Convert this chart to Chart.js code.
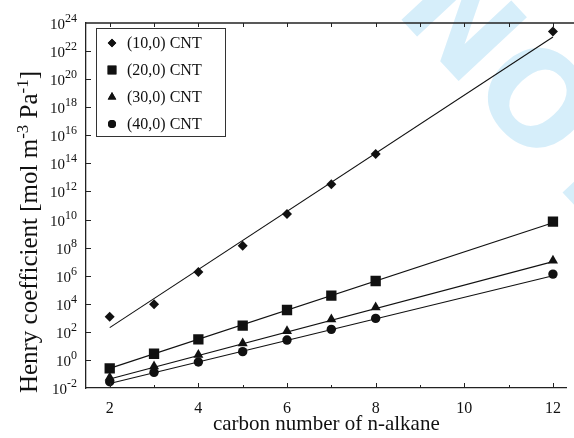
<!DOCTYPE html>
<html>
<head>
<meta charset="utf-8">
<script src="https://cdn.jsdelivr.net/npm/chart.js@4.4.0/dist/chart.umd.min.js"></script>
<style>
  html, body { margin: 0; padding: 0; background: #fff; }
  #wrap { width: 574px; height: 438px; }
</style>
</head>
<body>
<div id="wrap"><canvas id="henry"></canvas></div>
<script>
// carbon number of the n-alkane
var carbon = [2, 3, 4, 5, 6, 7, 8, 12];

// Henry coefficients [mol m-3 Pa-1]
var cnt10 = [1.2e3, 9.1e3, 1.8e6, 1.35e8, 2.5e10, 3.2e12, 4.7e14, 2.5e23];
var cnt20 = [0.25, 2.75, 29.5, 275, 3.6e3, 3.8e4, 4.2e5, 7.1e9];
var cnt30 = [0.056, 0.35, 2.3, 15, 115, 780, 5.6e3, 1.2e7];
var cnt40 = [0.028, 0.13, 0.71, 3.9, 26, 150, 910, 1.3e6];

// fitted straight lines (end points at C2 and C12)
var fitX = [2, 12];
var fit10 = [2.0e2, 1.0e23];
var fit20 = [0.25, 6.0e9];
var fit30 = [0.044, 1.0e7];
var fit40 = [0.021, 1.0e6];

var seriesNames = ['(10,0) CNT', '(20,0) CNT', '(30,0) CNT', '(40,0) CNT'];
var xTicks = [2, 4, 6, 8, 10, 12];
var yExponents = [-2, 0, 2, 4, 6, 8, 10, 12, 14, 16, 18, 20, 22, 24];

var serif = '"Liberation Serif", "DejaVu Serif", serif';
var ink = '#111';

function pts(xs, ys) {
	return xs.map(function (x, i) { return { x: x, y: ys[i] }; });
}

function markers(label, values, style, radius) {
	return {
		label: label,
		data: pts(carbon, values),
		showLine: false,
		pointStyle: style,
		pointRadius: radius,
		pointHoverRadius: radius,
		backgroundColor: ink,
		borderColor: ink,
		borderWidth: 0
	};
}

function fitLine(values) {
	return {
		label: 'fit',
		data: pts(fitX, values),
		showLine: true,
		pointRadius: 0,
		borderColor: ink,
		borderWidth: 1.1,
		fill: false
	};
}

var styles = [['rectRot', 5], ['rect', 7.3], ['triangle', 5.8], ['circle', 4.7]];

// light blue diagonal watermark behind the plot
var watermark = {
	id: 'watermark',
	beforeDraw: function (chart) {
		var ctx = chart.ctx;
		ctx.save();
		ctx.fillStyle = '#fff';
		ctx.fillRect(0, 0, chart.width, chart.height);
		ctx.translate(531, 104);
		ctx.rotate(0.82);
		ctx.font = 'bold 128px "DejaVu Sans"';
		ctx.fillStyle = '#d6eefa';
		ctx.textBaseline = 'middle';
		var wN = ctx.measureText('N').width;
		var wO = ctx.measureText('O').width;
		ctx.fillText('NOT', -wN - wO / 2, 4);
		ctx.restore();
	}
};

// frame, inward ticks, log labels with superscripts, y title, legend
var decorations = {
	id: 'decorations',
	afterDraw: function (chart) {
		var ctx = chart.ctx;
		var a = chart.chartArea;
		var xs = chart.scales.x, ys = chart.scales.y;
		ctx.save();
		ctx.strokeStyle = '#222';
		ctx.lineWidth = 1.3;

		// top frame line
		ctx.beginPath();
		ctx.moveTo(a.left, a.top);
		ctx.lineTo(chart.width, a.top);
		ctx.stroke();

		// x ticks, every integer
		ctx.lineWidth = 1;
		for (var c = 2; c <= 12; c++) {
			var px = Math.round(xs.getPixelForValue(c)) + 0.5;
			var major = c % 2 === 0;
			ctx.beginPath();
			ctx.moveTo(px, a.bottom);
			ctx.lineTo(px, a.bottom - (major ? 5 : 3));
			ctx.moveTo(px, a.top);
			ctx.lineTo(px, a.top + 4);
			ctx.stroke();
		}

		// y ticks and labels 10^n
		ctx.fillStyle = ink;
		ctx.textBaseline = 'alphabetic';
		yExponents.forEach(function (e) {
			var py = Math.round(ys.getPixelForValue(Math.pow(10, e))) + 0.5;
			if (e !== -2 && e !== 24) {
				ctx.beginPath();
				ctx.moveTo(a.left, py);
				ctx.lineTo(a.left + 5, py);
				ctx.stroke();
			}
			var sup = String(e);
			ctx.font = '12px ' + serif;
			var we = ctx.measureText(sup).width;
			var right = a.left - 9;
			ctx.textAlign = 'right';
			ctx.fillText(sup, right, py - 2);
			ctx.font = '15px ' + serif;
			ctx.fillText('10', right - we, py + 5);
		});

		// y axis title with superscripts
		ctx.save();
		ctx.translate(37, 232);
		ctx.rotate(-Math.PI / 2);
		var parts = [['Henry coefficient [mol m', 0], ['-3', 1], [' Pa', 0], ['-1', 1], [']', 0]];
		var total = 0;
		parts.forEach(function (p) {
			ctx.font = (p[1] ? '17px ' : '25px ') + serif;
			total += ctx.measureText(p[0]).width;
		});
		var cx = -total / 2;
		ctx.textAlign = 'left';
		parts.forEach(function (p) {
			ctx.font = (p[1] ? '17px ' : '25px ') + serif;
			ctx.fillText(p[0], cx, p[1] ? -9 : 0);
			cx += ctx.measureText(p[0]).width;
		});
		ctx.restore();

		// legend box inside the plot
		var lx = a.left + 10, ly = a.top + 5;
		ctx.lineWidth = 1;
		ctx.strokeStyle = '#333';
		ctx.strokeRect(lx + 0.5, ly + 0.5, 129, 108);
		ctx.font = '16px ' + serif;
		ctx.textAlign = 'left';
		ctx.textBaseline = 'middle';
		seriesNames.forEach(function (name, i) {
			var ry = ly + 15 + i * 27;
			Chart.helpers.drawPoint(ctx, {
				pointStyle: styles[i][0],
				radius: styles[i][1] * 0.85,
				borderWidth: 0
			}, lx + 16, ry);
			ctx.fill();
			ctx.fillText(name, lx + 31, ry + 1);
		});
		ctx.restore();
	}
};

var datasets = [];
var values = [cnt10, cnt20, cnt30, cnt40];
var fits = [fit10, fit20, fit30, fit40];
for (var i = 0; i < 4; i++) {
	datasets.push(fitLine(fits[i]));
	datasets.push(markers(seriesNames[i], values[i], styles[i][0], styles[i][1]));
}

var ctx = document.getElementById('henry').getContext('2d');
var henry = new Chart(ctx, {
	type: 'scatter',
	data: { datasets: datasets },
	plugins: [watermark, decorations],
	options: {
		responsive: true,
		maintainAspectRatio: false,
		animation: false,
		layout: {
			padding: { left: 0, top: 23, right: 1, bottom: 0 }
		},
		plugins: {
			legend: { display: false },
			tooltip: { enabled: false }
		},
		scales: {
			x: {
				type: 'linear',
				min: 1.465,
				max: 12.31,
				afterFit: function (scale) { scale.height = 50; },
				afterBuildTicks: function (scale) {
					scale.ticks = xTicks.map(function (v) { return { value: v }; });
				},
				grid: { display: false, drawTicks: false },
				border: { display: true, color: '#222', width: 1.3 },
				ticks: {
					color: ink,
					padding: 11,
					font: { family: serif, size: 16 },
					callback: function (v) { return v; }
				},
				title: {
					display: true,
					text: 'carbon number of n-alkane',
					color: ink,
					font: { family: serif, size: 21 },
					padding: { top: 0, bottom: 1 }
				}
			},
			y: {
				type: 'logarithmic',
				min: 1e-2,
				max: 1e24,
				afterFit: function (scale) { scale.width = 86; },
				grid: { display: false, drawTicks: false },
				border: { display: true, color: '#222', width: 1.3 },
				ticks: { display: false }
			}
		}
	}
});
</script>
</body>
</html>
